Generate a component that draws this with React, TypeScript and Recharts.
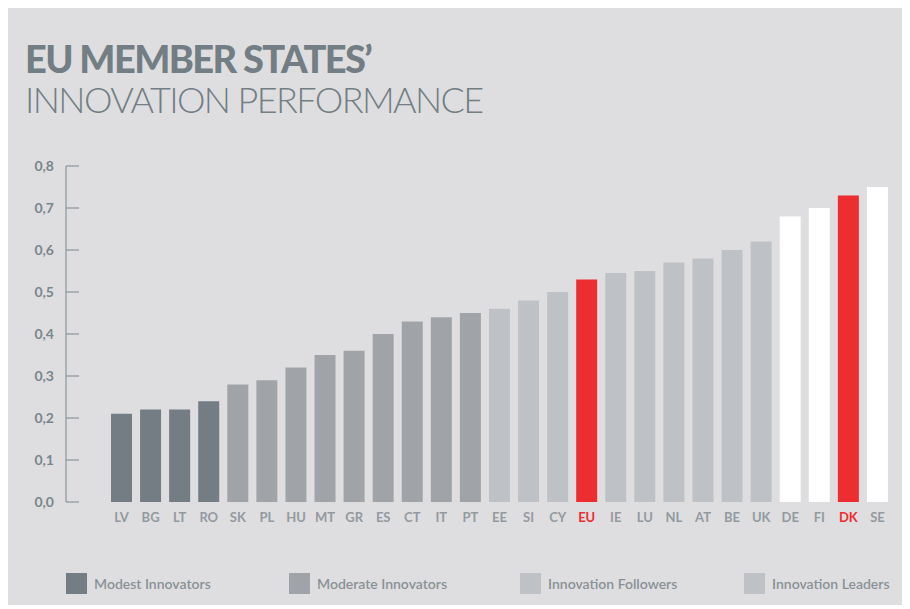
import { Bar, BarChart, Cell, XAxis, YAxis } from 'recharts'

const countries = ['LV', 'BG', 'LT', 'RO', 'SK', 'PL', 'HU', 'MT', 'GR', 'ES', 'CT', 'IT', 'PT', 'EE', 'SI', 'CY', 'EU', 'IE', 'LU', 'NL', 'AT', 'BE', 'UK', 'DE', 'FI', 'DK', 'SE']
const scores = [0.21, 0.22, 0.22, 0.24, 0.28, 0.29, 0.32, 0.35, 0.36, 0.4, 0.43, 0.44, 0.45, 0.46, 0.48, 0.5, 0.53, 0.545, 0.55, 0.57, 0.58, 0.6, 0.62, 0.68, 0.7, 0.73, 0.75]
// group per country: 0 modest, 1 moderate, 2 followers, 3 leaders, -1 highlight
const groups = [0, 0, 0, 0, 1, 1, 1, 1, 1, 1, 1, 1, 1, 2, 2, 2, -1, 2, 2, 2, 2, 2, 2, 3, 3, -1, 3]
const yTicks = [0, 0.1, 0.2, 0.3, 0.4, 0.5, 0.6, 0.7, 0.8]
const legendLabels = ['Modest Innovators', 'Moderate Innovators', 'Innovation Followers', 'Innovation Leaders']

const COLORS = {
  bg: '#dedee0',
  groups: ['#737d83', '#a0a4a8', '#bec2c6', '#ffffff'],
  highlight: '#ee2d30',
  title: '#737e84',
  axis: '#7a868c',
  label: '#939a9f',
  legendText: '#8a9196',
}
const FONT = 'Lato, "Open Sans", sans-serif'

const data = countries.map((c, i) => ({ name: c, value: scores[i], group: groups[i] }))

function YTick({ x, y, payload }: any) {
  return (
    <g>
      <line x1={x + 12} x2={x + 25} y1={y} y2={y} stroke={COLORS.axis} strokeWidth={1} />
      <text x={x} y={y} dy="0.35em" textAnchor="end" fontSize={14} fontWeight={700} fill={COLORS.axis} fontFamily={FONT}>
        {payload.value.toFixed(1).replace('.', ',')}
      </text>
    </g>
  )
}

function XTick({ x, y, payload }: any) {
  const red = payload.value === 'EU' || payload.value === 'DK'
  return (
    <text x={x} y={y} dy="0.71em" textAnchor="middle" fontSize={13} fontWeight={700} fill={red ? COLORS.highlight : COLORS.label} fontFamily={FONT}>
      {payload.value}
    </text>
  )
}

const legendX = [58, 281, 512, 736]

export default function App() {
  return (
    <div style={{ position: 'relative', width: 902, height: 597, background: COLORS.bg, fontFamily: FONT }}>
      <div style={{ position: 'absolute', left: 17, top: 29, color: COLORS.title, lineHeight: '42px', whiteSpace: 'nowrap' }}>
        <div style={{ fontSize: 38, fontWeight: 900, letterSpacing: -1.6 }}>EU MEMBER STATES’</div>
        <div style={{ fontSize: 36, fontWeight: 300, letterSpacing: -1.6, marginTop: -1 }}>INNOVATION PERFORMANCE</div>
      </div>
      <BarChart width={902} height={560} data={data} margin={{ top: 158, right: 18, left: 0, bottom: 36 }} barSize={21}>
        <XAxis
          dataKey="name"
          axisLine={false}
          tickLine={false}
          tickSize={0}
          tickMargin={11}
          height={30}
          interval={0}
          padding={{ left: 41, right: 0 }}
          tick={<XTick />}
        />
        <YAxis
          domain={[0, 0.8]}
          ticks={yTicks}
          width={58}
          axisLine={{ stroke: COLORS.axis, strokeWidth: 1 }}
          tickLine={false}
          tickSize={0}
          tickMargin={12}
          interval={0}
          tick={<YTick />}
        />
        <Bar dataKey="value" isAnimationActive={false}>
          {data.map((d) => (
            <Cell key={d.name} fill={d.group < 0 ? COLORS.highlight : COLORS.groups[d.group]} />
          ))}
        </Bar>
      </BarChart>
      {legendLabels.map((label, i) => (
        <div key={label} style={{ position: 'absolute', left: legendX[i], top: 565, display: 'flex', alignItems: 'center' }}>
          <div style={{ width: 21, height: 21, background: COLORS.groups[i] === '#ffffff' ? COLORS.groups[2] : COLORS.groups[i] }} />
          <span style={{ marginLeft: 7, fontSize: 14, fontWeight: 600, color: COLORS.legendText }}>{label}</span>
        </div>
      ))}
    </div>
  )
}
